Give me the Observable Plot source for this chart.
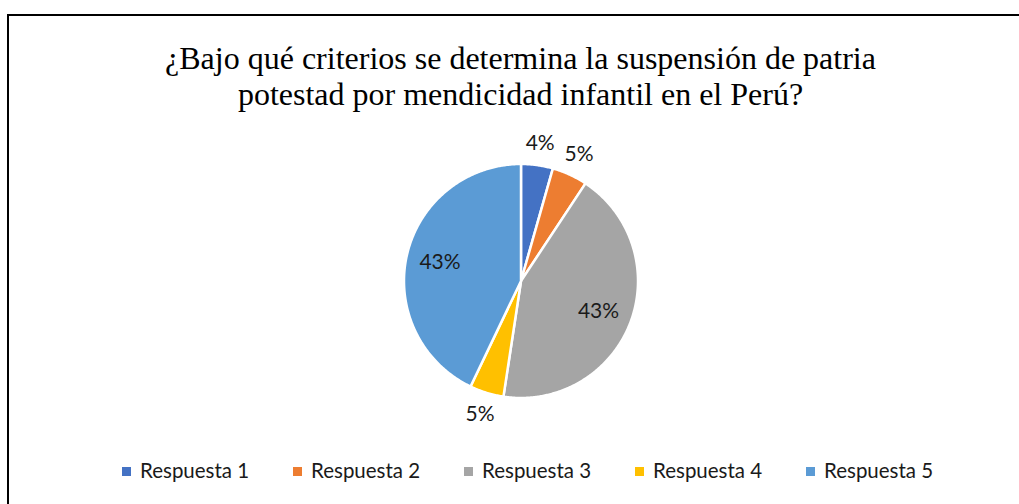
<!DOCTYPE html>
<html>
<head>
<meta charset="utf-8">
<script src="https://cdn.jsdelivr.net/npm/d3@7"></script>
<script src="https://cdn.jsdelivr.net/npm/@observablehq/plot@0.6"></script>
<style>
  html, body { margin: 0; padding: 0; width: 1019px; height: 504px; overflow: hidden; background: #fff; }
  #frame { position: absolute; left: 7px; top: 14px; width: 1100px; height: 600px;
           border-left: 2px solid #000; border-top: 2px solid #000; }
  #title { position: absolute; top: 40px; left: 60px; width: 921px; text-align: center;
           font-family: "Liberation Serif", "Times New Roman", serif; font-size: 32px; line-height: 36px; color: #000; }
  #chart { position: absolute; left: 0; top: 130px; }
  #legend { position: absolute; top: 460px; left: 122px; display: flex;
            font-family: Lato, sans-serif; font-size: 20.5px; line-height: 20px; color: #1a1a1a; }
  .item { display: flex; align-items: center; width: 171px; }
  .sw { width: 9px; height: 9px; margin-right: 9px; margin-top: 3px; flex: none; }
</style>
</head>
<body>
<div id="frame"></div>
<div id="title">¿Bajo qué criterios se determina la suspensión de patria<br>potestad por mendicidad infantil en el Perú?</div>
<div id="chart"></div>
<div id="legend"></div>
<script>
const categories = ["Respuesta 1", "Respuesta 2", "Respuesta 3", "Respuesta 4", "Respuesta 5"];
const values = [4.4, 4.9, 43.1, 4.7, 42.9];
const colors = ["#4472C4", "#ED7D31", "#A5A5A5", "#FFC000", "#5B9BD5"];

const data = categories.map((c, i) => ({name: c, value: values[i]}));
const arcs = d3.pie().value(d => d.value).sort(null)(data);

// polygon points for each slice, in unit-circle coordinates (angle clockwise from top)
const pts = [];
for (const a of arcs) {
  const name = a.data.name;
  pts.push({name, x: 0, y: 0});
  const n = Math.max(2, Math.ceil((a.endAngle - a.startAngle) / (Math.PI / 360)));
  for (let k = 0; k <= n; k++) {
    const t = a.startAngle + (a.endAngle - a.startAngle) * k / n;
    pts.push({name, x: Math.sin(t), y: Math.cos(t)});
  }
  pts.push({name, x: 0, y: 0});
}

const labels = arcs.map(a => {
  const mid = (a.startAngle + a.endAngle) / 2;
  const r = a.data.value < 10 ? 1.19 : 0.71;
  return {x: r * Math.sin(mid), y: r * Math.cos(mid), text: Math.round(a.data.value) + "%"};
});

const W = 1019, H = 300, R = 117, cx = 520.5, cy = 150.5;
const chart = Plot.plot({
  width: W, height: H, margin: 0,
  style: {background: "transparent", overflow: "visible"},
  x: {domain: [-cx / R, (W - cx) / R], range: [0, W], axis: null},
  y: {domain: [-(H - cy) / R, cy / R], range: [H, 0], axis: null},
  color: {domain: categories, range: colors},
  marks: [
    Plot.line(pts, {x: "x", y: "y", z: "name", fill: "name", stroke: "white", strokeWidth: 2.5, strokeLinejoin: "round"}),
    Plot.text(labels, {x: "x", y: "y", text: "text", fontSize: 21, fontFamily: "Lato, sans-serif", fill: "#1a1a1a"})
  ]
});
document.getElementById("chart").appendChild(chart);

const legend = document.getElementById("legend");
categories.forEach((c, i) => {
  const it = document.createElement("div");
  it.className = "item";
  it.innerHTML = `<span class="sw" style="background:${colors[i]}"></span><span>${c}</span>`;
  legend.appendChild(it);
});
</script>
</body>
</html>
